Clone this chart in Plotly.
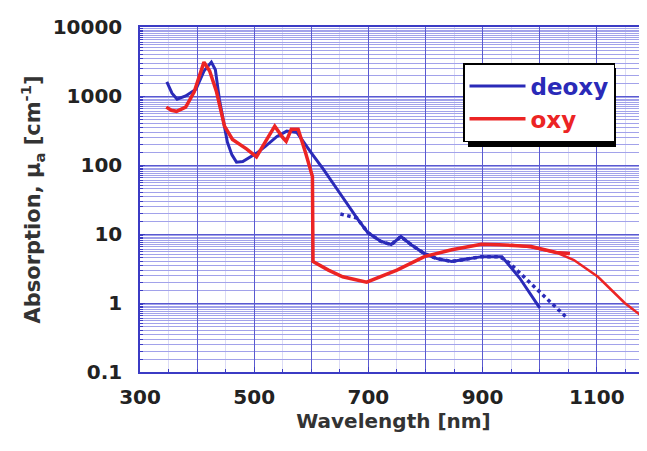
import plotly.graph_objects as go

# ---- data ----
deoxy_wl = [347, 356, 365, 380, 398, 412, 425, 432, 439, 446, 453, 461, 469, 480, 492, 505, 519, 540, 557, 570, 575,
            600, 621, 651, 680, 699, 722, 740, 757, 775, 798, 820, 846, 870, 899, 934, 965, 1000]
deoxy_val = [1600, 1100, 900, 1000, 1250, 2300, 3100, 2400, 900, 420, 215, 140, 110, 112, 128, 150, 185, 260, 310, 300, 295,
             150, 87, 38, 17, 10.5, 7.8, 7.0, 9.2, 7.0, 5.2, 4.4, 4.0, 4.3, 4.7, 4.7, 2.3, 0.85]

deoxy2_wl = [651, 664, 680, 699, 722, 740, 757, 775, 798, 820, 846, 870, 899, 930, 947, 1000, 1046]
deoxy2_val = [19.5, 18.5, 17, 10.5, 7.8, 7.0, 9.2, 7.0, 5.2, 4.4, 4.0, 4.3, 4.7, 4.7, 3.8, 1.45, 0.63]

oxy_wl = [346, 355, 364, 380, 395, 405, 412, 422, 434, 448, 462, 487, 504, 520, 536, 550, 556, 565, 577, 590, 602,
          603, 630, 655, 697, 750, 798, 846, 898, 929, 985, 1029, 1053]
oxy_val = [690, 620, 600, 690, 1150, 2000, 3100, 2300, 1150, 365, 235, 170, 131, 220, 365, 250, 220, 330, 330, 150, 68,
           4.0, 3.0, 2.4, 2.0, 3.0, 4.7, 5.9, 7.1, 7.0, 6.6, 5.4, 5.2]

oxy2_wl = [950, 985, 1029, 1060, 1102, 1149, 1195]
oxy2_val = [7.0, 6.4, 5.4, 4.2, 2.4, 1.0, 0.51]

y_tickvals = [0.1, 1, 10, 100, 1000, 10000]
y_ticktext = ["0.1", "1", "10", "100", "1000", "10000"]
x_tickvals = [300, 400, 500, 600, 700, 800, 900, 1000, 1100, 1200]
x_ticktext = ["300", "", "500", "", "700", "", "900", "", "1100", ""]

BLUE = "#2a2ab8"
RED = "#ec2424"
FONT = "DejaVu Sans"

y_minor = []
for d in range(-1, 4):
    for k in [1.5, 2, 2.5, 3, 3.5, 4, 4.5, 5, 5.5, 6, 6.5, 7, 7.5, 8, 8.5, 9, 9.5]:
        y_minor.append(k * 10 ** d)
x_minor = list(range(300, 1201, 50))

fig = go.Figure()
fig.add_trace(go.Scatter(x=deoxy_wl, y=deoxy_val, mode="lines",
                         name="<span style='color:%s'>deoxy</span>" % BLUE,
                         line=dict(color=BLUE, width=3)))
fig.add_trace(go.Scatter(x=deoxy2_wl, y=deoxy2_val, mode="lines", showlegend=False,
                         line=dict(color=BLUE, width=3.5, dash="dot")))
fig.add_trace(go.Scatter(x=oxy_wl, y=oxy_val, mode="lines",
                         name="<span style='color:%s'>oxy</span>" % RED,
                         line=dict(color=RED, width=3.5)))
fig.add_trace(go.Scatter(x=oxy2_wl, y=oxy2_val, mode="lines", showlegend=False,
                         line=dict(color=RED, width=2.5)))

axis_common = dict(
    showline=True, linecolor="#3b3bc4", linewidth=1.5, mirror=True,
    gridcolor="#5a5ad0", gridwidth=1.2,
    ticks="inside", tickcolor="#3b3bc4", ticklen=5,
    tickfont=dict(family=FONT, size=20, color="#222222", weight="bold"),
    zeroline=False, automargin=False,
)

fig.update_xaxes(
    range=[300, 1188], tickvals=x_tickvals, ticktext=x_ticktext,
    title=dict(text="Wavelength [nm]", font=dict(family=FONT, size=20, color="#333333", weight="bold"), standoff=4),
    minor=dict(tickvals=x_minor, ticks="inside", ticklen=3, tickcolor="#3b3bc4",
               showgrid=True, gridcolor="#dcdcf6", gridwidth=1),
    ticklabelstandoff=6,
    **axis_common,
)
fig.update_yaxes(
    type="log", range=[-1, 4], tickvals=y_tickvals, ticktext=y_ticktext,
    title=dict(text="Absorption, μ<sub>a</sub> [cm<sup>-1</sup>]",
               font=dict(family=FONT, size=21, color="#333333", weight="bold"), standoff=6),
    minor=dict(tickvals=y_minor, ticks="inside", ticklen=3, tickcolor="#3b3bc4",
               showgrid=True, gridcolor="#a2a2ea", gridwidth=1),
    ticklabelstandoff=12,
    **axis_common,
)

# page body adds an 8px offset: plot area target is x 140..647, y 27..372
fig.update_layout(
    width=639, height=435,
    margin=dict(l=132, r=0, t=19, b=71),
    paper_bgcolor="white", plot_bgcolor="white",
    showlegend=True,
    legend=dict(x=(463 - 140) / 507, y=(372 - 63) / 345, xanchor="left", yanchor="top",
                bgcolor="white", bordercolor="black", borderwidth=1.5,
                font=dict(family=FONT, size=23, weight="bold"),
                itemwidth=56),
    shapes=[dict(type="rect", xref="paper", yref="paper",
                 x0=(468 - 140) / 507, x1=(616 - 140) / 507,
                 y0=(372 - 147) / 345, y1=(372 - 68) / 345,
                 fillcolor="black", line=dict(width=0), layer="above")],
)

fig.write_html("out.html")
